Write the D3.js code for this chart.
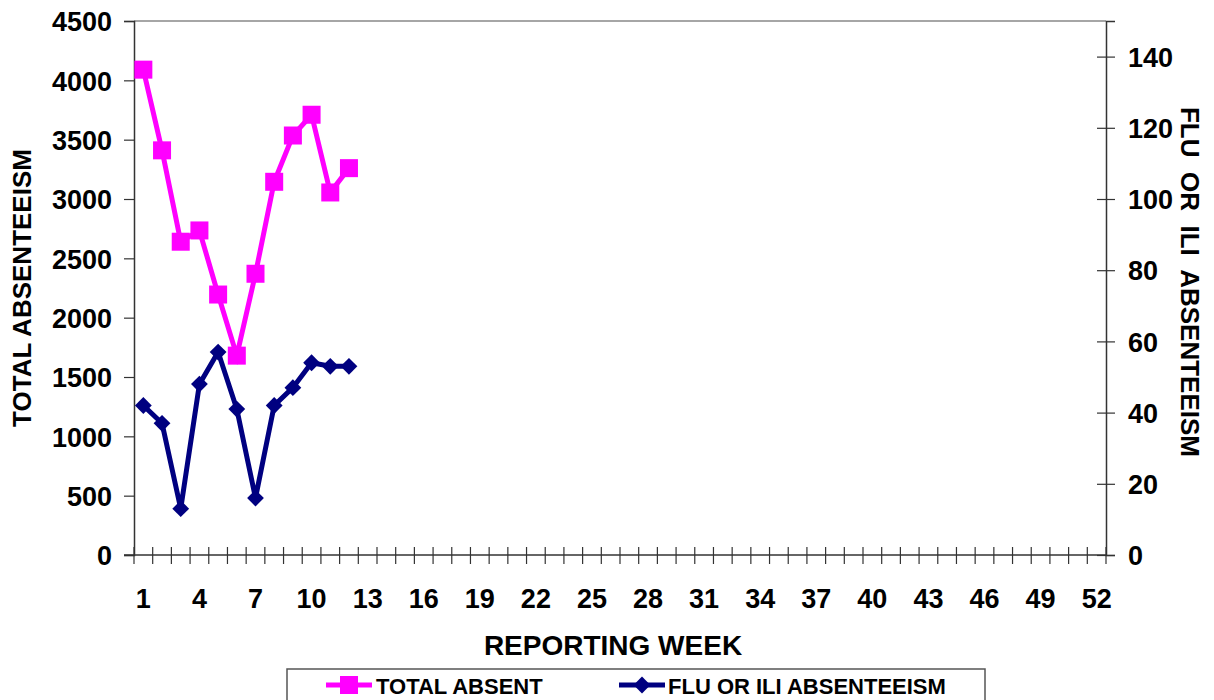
<!DOCTYPE html>
<html>
<head>
<meta charset="utf-8">
<script src="https://cdn.jsdelivr.net/npm/d3@7"></script>
<style>
  body { margin: 0; background: #fff; }
  text { font-family: "Liberation Sans", Arial, sans-serif; font-weight: bold; }
</style>
</head>
<body>
<svg id="chart" width="1214" height="700"></svg>
<script>
// data
const weeks = d3.range(1, 53);
const totalAbsent = [4090, 3410, 2640, 2735, 2195, 1680, 2370, 3145, 3535, 3710, 3055, 3260];
const fluAbsent = [42, 37, 13, 48, 57, 41, 16, 42, 47, 54, 53, 53];
const leftTicks = d3.range(0, 4501, 500);
const rightTicks = d3.range(0, 141, 20);
const weekLabels = weeks.filter(w => (w - 1) % 3 === 0);

const svg = d3.select("svg#chart");

// plot area
const plot = { left: 134, right: 1106, top: 21, bottom: 555 };

// scales
const xScale = d3.scaleBand().domain(weeks).range([plot.left, plot.right]);
const yLeft = d3.scaleLinear().domain([0, 4500]).range([plot.bottom, plot.top]);
const yRight = d3.scaleLinear().domain([0, 150]).range([plot.bottom, plot.top]);
const xc = w => xScale(w) + xScale.bandwidth() / 2;

// top border
svg.append("line")
  .attr("x1", plot.left).attr("x2", plot.right)
  .attr("y1", plot.top).attr("y2", plot.top)
  .attr("stroke", "#888").attr("stroke-width", 1.5);

// left axis
const gl = svg.append("g").attr("transform", `translate(${plot.left},0)`)
  .call(d3.axisLeft(yLeft).tickValues(leftTicks).tickFormat(d3.format("d")).tickSize(10).tickPadding(12));
gl.selectAll("text").attr("font-size", 27).attr("fill", "#000").attr("dy", "0.36em")
  .style("font-family", "'Liberation Sans', Arial, sans-serif");

// right axis (cross ticks)
const gr = svg.append("g").attr("transform", `translate(${plot.right},0)`)
  .call(d3.axisRight(yRight).tickValues(rightTicks).tickSize(9).tickPadding(13));
gr.selectAll(".tick line").attr("x1", -9);
gr.selectAll("text").attr("font-size", 27).attr("fill", "#000").attr("dy", "0.36em")
  .style("font-family", "'Liberation Sans', Arial, sans-serif");

// bottom axis: cross ticks on band edges, labels every 3 weeks
const gb = svg.append("g").attr("transform", `translate(0,${plot.bottom})`);
gb.append("line")
  .attr("x1", plot.left - 10).attr("x2", plot.right)
  .attr("stroke", "#333").attr("stroke-width", 1.5);
gb.selectAll("line.tk")
  .data(weeks.concat([53]))
  .join("line")
  .attr("class", "tk")
  .attr("x1", w => w === 53 ? plot.right : xScale(w))
  .attr("x2", w => w === 53 ? plot.right : xScale(w))
  .attr("y1", -8).attr("y2", 9)
  .attr("stroke", "#333").attr("stroke-width", 1.2);
gb.selectAll("text.lbl")
  .data(weekLabels)
  .join("text")
  .attr("class", "lbl")
  .attr("x", xc)
  .attr("y", 53)
  .attr("text-anchor", "middle")
  .attr("font-size", 27)
  .text(d => d);

svg.selectAll(".domain").attr("stroke", "#333").attr("stroke-width", 1.5);
svg.selectAll(".tick line").attr("stroke", "#333").attr("stroke-width", 1.2);

// axis titles
svg.append("text")
  .attr("transform", `translate(31,${(plot.top + plot.bottom) / 2}) rotate(-90)`)
  .attr("text-anchor", "middle").attr("font-size", 26)
  .text("TOTAL ABSENTEEISM");
svg.append("text")
  .attr("transform", `translate(1181,${282}) rotate(90)`)
  .attr("text-anchor", "middle").attr("font-size", 26)
  .style("white-space", "pre")
  .text("FLU  OR  ILI  ABSENTEEISM");
svg.append("text")
  .attr("x", 613).attr("y", 655)
  .attr("text-anchor", "middle").attr("font-size", 28)
  .text("REPORTING WEEK");

// lines
const lineLeft = d3.line().x((d, i) => xc(weeks[i])).y(d => yLeft(d));
const lineRight = d3.line().x((d, i) => xc(weeks[i])).y(d => yRight(d));

svg.append("path")
  .attr("d", lineLeft(totalAbsent))
  .attr("fill", "none").attr("stroke", "#ff00ff").attr("stroke-width", 5);
svg.selectAll("rect.sq")
  .data(totalAbsent)
  .join("rect")
  .attr("class", "sq")
  .attr("x", (d, i) => xc(weeks[i]) - 9)
  .attr("y", d => yLeft(d) - 9)
  .attr("width", 18).attr("height", 18)
  .attr("fill", "#ff00ff");

svg.append("path")
  .attr("d", lineRight(fluAbsent))
  .attr("fill", "none").attr("stroke", "#000080").attr("stroke-width", 5);
const diamond = d3.symbol().type(d3.symbolDiamond2).size(180);
svg.selectAll("path.dm")
  .data(fluAbsent)
  .join("path")
  .attr("class", "dm")
  .attr("d", diamond)
  .attr("transform", (d, i) => `translate(${xc(weeks[i])},${yRight(d)})`)
  .attr("fill", "#000080");

// legend
const lg = svg.append("g");
lg.append("rect")
  .attr("x", 287).attr("y", 669).attr("width", 698).attr("height", 40)
  .attr("fill", "#fff").attr("stroke", "#555").attr("stroke-width", 1.5);
lg.append("line").attr("x1", 326).attr("x2", 372).attr("y1", 685).attr("y2", 685)
  .attr("stroke", "#ff00ff").attr("stroke-width", 5);
lg.append("rect").attr("x", 340).attr("y", 676).attr("width", 18).attr("height", 18)
  .attr("fill", "#ff00ff");
lg.append("text").attr("x", 376).attr("y", 694).attr("font-size", 22).text("TOTAL ABSENT");
lg.append("line").attr("x1", 619).attr("x2", 665).attr("y1", 685).attr("y2", 685)
  .attr("stroke", "#000080").attr("stroke-width", 5);
lg.append("path").attr("d", diamond)
  .attr("transform", "translate(642,685)").attr("fill", "#000080");
lg.append("text").attr("x", 668).attr("y", 694).attr("font-size", 22).text("FLU OR ILI ABSENTEEISM");
</script>
</body>
</html>
